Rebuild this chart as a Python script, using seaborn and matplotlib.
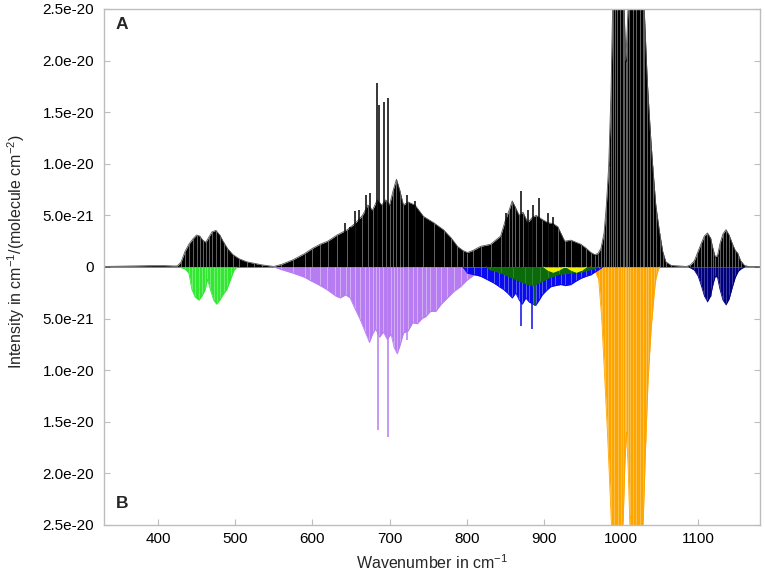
import numpy as np
import pandas as pd
import matplotlib
matplotlib.use("Agg")
import matplotlib.pyplot as plt
import seaborn as sns

# ---- data (intensities in units of 1e-21 cm^-1/(molecule cm^-2)) ----
# Upper panel A: total (black) stick spectrum envelope
black_wn = [330, 350, 370, 390, 410, 420, 425, 430, 435, 440, 445, 450, 454, 458, 462, 466,
            470, 475, 480, 485, 490, 497, 505, 515, 525, 535, 545, 550, 560, 575, 590, 600,
            610, 620, 632, 645, 655, 665, 672, 678, 684, 690, 695, 700, 705, 709, 713, 718,
            724, 733, 744, 757, 770, 780, 788, 795, 801, 808, 818, 831, 844, 850, 855, 859,
            863, 868, 873, 879, 885, 890, 898, 905, 912, 918, 927, 935, 948, 955, 961, 966,
            970, 974, 978, 981, 984, 987, 989, 992, 995, 999, 1002, 1004, 1006, 1008, 1010,
            1015, 1019, 1024, 1028, 1030, 1034, 1038, 1041, 1045, 1050, 1054, 1058, 1065,
            1075, 1085, 1090, 1095, 1099, 1104, 1108, 1112, 1116, 1119, 1122, 1125, 1128,
            1132, 1136, 1140, 1144, 1148, 1151, 1155, 1160, 1165, 1180]
black_int = [0.05, 0.08, 0.10, 0.13, 0.13, 0.10, 0.1, 0.5, 1.5, 2.2, 2.7, 3.1, 3.0, 2.6, 2.4, 2.9,
             3.4, 3.55, 3.1, 2.4, 1.8, 1.2, 0.8, 0.5, 0.35, 0.2, 0.1, 0.05, 0.25, 0.7, 1.3, 1.8,
             2.2, 2.5, 3.1, 3.6, 4.2, 5.0, 6.0, 5.5, 6.5, 6.0, 6.5, 6.0, 7.5, 8.5, 7.5, 6.0,
             6.3, 6.0, 4.9, 4.3, 3.6, 2.8, 2.0, 1.6, 1.4, 1.6, 2.0, 2.2, 3.0, 4.5, 5.5, 6.4,
             5.8, 5.0, 5.3, 4.3, 4.8, 5.0, 4.6, 4.3, 4.2, 3.9, 2.5, 2.6, 2.2, 1.8, 1.4, 1.2,
             1.3, 1.8, 3.3, 6.0, 9.8, 17.0, 25.0, 35.0, 42.0, 35.0, 28.0, 25.0, 20.0, 23.0, 27.0,
             38.0, 42.0, 36.0, 28.0, 25.0, 18.0, 13.0, 9.8, 6.0, 3.3, 1.5, 0.5, 0.15,
             0.1, 0.05, 0.2, 0.6, 1.36, 2.3, 3.0, 3.3, 2.8, 1.8, 1.0, 1.1, 2.2,
             3.2, 3.62, 3.1, 2.3, 1.6, 1.36, 0.6, 0.15, 0.05, 0.05]
black_spike_wn = [642.8, 649, 655.6, 660, 669, 675, 683.3, 686, 693.5, 697.5, 723, 733.6,
                  850.5, 870, 880, 886, 893.7, 905, 912]
black_spike_int = [4.3, 3.9, 5.4, 5.5, 7.0, 7.2, 17.8, 15.7, 16.0, 16.4, 7.0, 6.4,
                   5.2, 7.4, 5.5, 6.0, 6.7, 5.2, 4.8]

# Lower panel B: individual bands (magnitudes, drawn downwards)
green_wn = [428, 435, 440, 444, 448, 453, 457, 461, 464, 468, 472, 476, 480, 485, 489, 494, 498, 502]
green_int = [0, 0.2, 0.6, 2.2, 2.9, 3.2, 2.8, 2.2, 1.2, 2.2, 3.2, 3.6, 3.2, 2.6, 2.2, 1.2, 0.4, 0]

purple_wn = [550, 560, 575, 590, 597, 610, 619, 630, 636, 643, 649, 655, 662, 668, 674, 678, 682,
             687, 692, 697, 702, 706, 710, 714, 718, 724, 730, 736, 742, 747, 753, 760, 767, 775,
             783, 792, 800, 809, 818, 826]
purple_int = [0, 0.25, 0.6, 1.0, 1.3, 1.8, 2.2, 2.8, 3.0, 2.7, 3.0, 4.0, 5.1, 6.2, 7.3, 6.5, 6.0,
              6.8, 6.3, 7.0, 6.5, 7.8, 8.4, 7.5, 6.4, 6.2, 5.4, 5.5, 5.0, 4.8, 4.3, 4.3, 3.6, 3.0,
              2.4, 1.9, 1.3, 0.8, 0.35, 0]
purple_spike_wn = [685.6, 697.7, 722.8]
purple_spike_int = [15.8, 16.5, 7.1]

blue_wn = [795, 801, 810, 818, 826, 835, 842, 848, 854, 859, 863.5, 868, 872, 876.5, 881, 886,
           889.5, 894, 898, 903, 909, 915, 922, 928, 935, 941, 948, 955, 961, 966, 971, 976]
blue_int = [0, 0.6, 0.75, 0.9, 1.2, 1.55, 1.9, 2.2, 2.6, 3.0, 2.5, 3.2, 3.6, 3.0, 3.4, 3.6,
            3.7, 3.2, 2.7, 2.3, 1.9, 1.8, 1.7, 1.8, 1.7, 1.4, 1.1, 0.9, 0.75, 0.5, 0.26, 0]
blue_spike_wn = [870, 884.3]
blue_spike_int = [5.7, 6.0]

dgreen_wn = [825, 830, 845, 860, 875, 885, 895, 905, 920, 935, 950, 965, 970]
dgreen_int = [0, 0.25, 0.6, 1.1, 1.6, 1.8, 1.5, 1.1, 0.7, 0.6, 0.45, 0.15, 0]
dgreen_spike_wn = [889]
dgreen_spike_int = [3.8]

yellow_wn = [900, 905, 912, 919, 925, 930, 935, 942, 949, 955]
yellow_int = [0, 0.3, 0.5, 0.3, 0.05, 0.05, 0.3, 0.5, 0.3, 0]

orange_wn = [960, 966, 971, 975, 979, 983, 987, 991, 996, 1000, 1003, 1005, 1007, 1009, 1011,
             1016, 1020, 1025, 1029, 1032, 1035, 1039, 1043, 1045, 1048, 1050]
orange_int = [0, 0.3, 1.2, 5, 11, 17, 24, 32, 38, 30, 24, 19, 16, 19, 24,
              35, 40, 32, 24, 17, 11, 6, 2.5, 1.2, 0.3, 0]

navy_wn = [1088, 1095, 1100, 1104, 1108, 1112, 1116, 1119, 1122, 1125, 1128, 1132, 1136, 1140,
           1144, 1148, 1152, 1156, 1160]
navy_int = [0, 0.3, 0.9, 1.8, 2.8, 3.35, 2.8, 1.7, 0.9, 1.0, 2.1, 3.2, 3.65, 3.1,
            2.0, 1.0, 0.4, 0.15, 0]

ytick_vals = [-25, -20, -15, -10, -5, 0, 5, 10, 15, 20, 25]
ytick_labels = ["2.5e-20", "2.0e-20", "1.5e-20", "1.0e-20", "5.0e-21", "0",
                "5.0e-21", "1.0e-20", "1.5e-20", "2.0e-20", "2.5e-20"]
xtick_vals = [400, 500, 600, 700, 800, 900, 1000, 1100]

# ---- style ----
sns.set_style("white")
plt.rcParams['font.family'] = ['Liberation Sans', 'DejaVu Sans']
plt.rcParams['mathtext.fontset'] = 'custom'
plt.rcParams['mathtext.rm'] = 'Liberation Sans'
plt.rcParams['mathtext.it'] = 'Liberation Sans:italic'
plt.rcParams['mathtext.default'] = 'regular'

fig = plt.figure(figsize=(7.65, 5.72), dpi=100)
ax = fig.add_axes([0.1359, 0.0822, 0.8575, 0.9021])


def band(wn, vals, color, stripe, sign=1.0, z=2, edge=None):
    df = pd.DataFrame({"wn": wn, "v": [sign * v for v in vals]})
    ax.fill_between(df["wn"], 0, df["v"], color=color, lw=0, zorder=z)
    ax.vlines(df["wn"], 0, df["v"], color=stripe, lw=0.7, alpha=0.7, zorder=z + 0.1)
    sns.lineplot(data=df, x="wn", y="v", color=edge or color, lw=0.6, ax=ax,
                 zorder=z + 0.2, sort=True, legend=False)


def spikes(wn, vals, color, sign=1.0, z=3):
    ax.vlines(wn, 0, [sign * v for v in vals], color=color, lw=1.1, zorder=z)


# upper (A)
band(black_wn, black_int, "black", "#8c8c8c", 1.0, z=2, edge="#555555")
spikes(black_spike_wn, black_spike_int, "black", 1.0, z=3)

# lower (B)
band(purple_wn, purple_int, "#b77cf2", "#dcc4f6", -1.0, z=2)
spikes(purple_spike_wn, purple_spike_int, "#b77cf2", -1.0, z=2.5)
band(blue_wn, blue_int, "#0a0aee", "#7f86e6", -1.0, z=3)
spikes(blue_spike_wn, blue_spike_int, "#0a0aee", -1.0, z=3.5)
band(dgreen_wn, dgreen_int, "#0b6b0b", "#3f8f3f", -1.0, z=4)
spikes(dgreen_spike_wn, dgreen_spike_int, "#0b6b0b", -1.0, z=4.5)
band(yellow_wn, yellow_int, "#f2f200", "#f2f200", -1.0, z=5)
band(green_wn, green_int, "#33e833", "#8ff08f", -1.0, z=2)
band(orange_wn, orange_int, "#ffa500", "#f5cc70", -1.0, z=2)
band(navy_wn, navy_int, "#00007f", "#5a5aa8", -1.0, z=2)

ax.set_xlim(330, 1180)
ax.set_ylim(-25, 25)
ax.set_yticks(ytick_vals)
ax.set_yticklabels(ytick_labels)
ax.set_xticks(xtick_vals)
ax.set_xticklabels([str(v) for v in xtick_vals])

for s in ax.spines.values():
    s.set_color("#bdbdbd")
    s.set_linewidth(1.0)
ax.tick_params(axis="both", which="both", direction="in", length=4.5, width=0.8,
               color="#bdbdbd", labelsize=11, labelcolor="black")
ax.tick_params(axis="y", left=True, right=True, pad=7)
ax.tick_params(axis="x", bottom=True, top=False, pad=5)

ax.set_xlabel("Wavenumber in cm$^{-1}$", fontsize=11.5, labelpad=5)
ax.set_ylabel("Intensity in cm$^{-1}$/(molecule cm$^{-2}$)", fontsize=11.5)
ax.yaxis.set_label_coords(-0.117, 0.53)

ax.text(0.018, 0.985, "A", transform=ax.transAxes, fontsize=12.5, fontweight="bold",
        va="top", ha="left")
ax.text(0.018, 0.027, "B", transform=ax.transAxes, fontsize=12.5, fontweight="bold",
        va="bottom", ha="left")

fig.savefig("out.png", dpi=100)
